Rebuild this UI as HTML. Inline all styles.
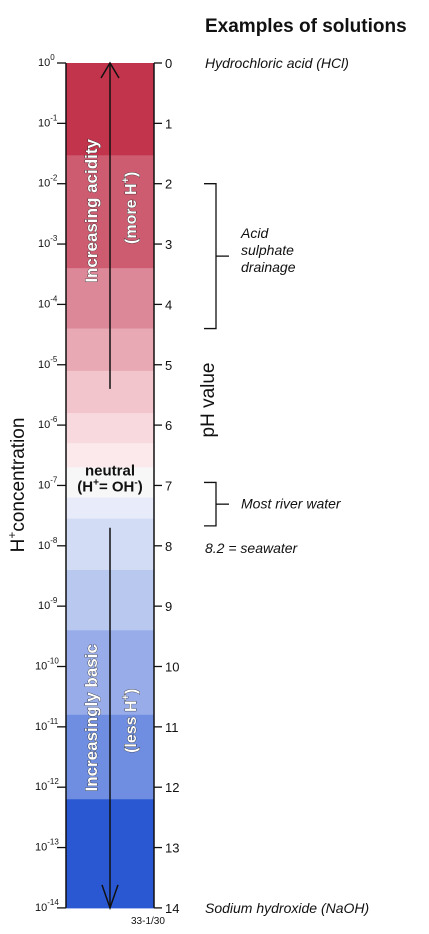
<!DOCTYPE html>
<html><head><meta charset="utf-8"><style>
html,body{margin:0;padding:0;background:#fff}
svg{display:block;font-family:"Liberation Sans",Arial,sans-serif}
</style></head><body>
<svg id="c" width="429" height="934" viewBox="0 0 429 934">
<g id="bands"></g>
<g id="axes"></g>
<text x="205" y="32" font-size="19" font-weight="bold" fill="#111">Examples of solutions</text>
<g id="ex"></g>
<text transform="translate(24,485) rotate(-90)" font-size="19" fill="#111" text-anchor="middle">H<tspan dy="-8" font-size="12">+</tspan><tspan dy="8">concentration</tspan></text>
<text transform="translate(214,400) rotate(-90)" font-size="19" fill="#111" text-anchor="middle">pH value</text>
<text x="131" y="924" font-size="10" fill="#111">33-1/30</text>
</svg>
<script>
const phTicks=[0,1,2,3,4,5,6,7,8,9,10,11,12,13,14];
const bandStops=[0,1.53,3.4,4.4,5.1,5.8,6.3,6.7,7.2,7.55,8.4,9.4,10.8,12.2,14];
const bandColors=["#c2344b","#ce5c70","#dc8898","#e8a9b4","#f2c4cc","#f8d9de","#fce9ec","#f7f7f8","#e8ecfa","#d3dcf5","#b8c8ef","#98acea","#6f8ee2","#2a58d2"];
const examples=[{ph:0,text:"Hydrochloric acid (HCl)"},{ph:14,text:"Sodium hydroxide (NaOH)"},{ph:8.2,text:"8.2 = seawater"}];
const X0=66,X1=154,Y0=63,UNIT=60.35;
const y=ph=>Y0+ph*UNIT;
const NS="http://www.w3.org/2000/svg";
function mk(tag,attrs,parent,txt){const e=document.createElementNS(NS,tag);for(const k in attrs)e.setAttribute(k,attrs[k]);if(txt!=null)e.textContent=txt;parent.appendChild(e);return e;}
const svg=document.getElementById('c'),bands=document.getElementById('bands'),axes=document.getElementById('axes'),ex=document.getElementById('ex');
for(let i=0;i<bandColors.length;i++){
 const r=mk('rect',{x:X0,y:y(bandStops[i]),width:X1-X0,height:y(bandStops[i+1])-y(bandStops[i])+0.5,fill:bandColors[i]},bands);
 
 
}
mk('line',{x1:X0,y1:y(0),x2:X0,y2:y(14),stroke:'#111','stroke-width':1.5},axes);
mk('line',{x1:X1,y1:y(0),x2:X1,y2:y(14),stroke:'#111','stroke-width':1.5},axes);
phTicks.forEach(p=>{
 const yy=y(p);
 mk('line',{x1:57,y1:yy,x2:X0,y2:yy,stroke:'#111','stroke-width':1.3},axes);
 mk('line',{x1:X1,y1:yy,x2:X1+8,y2:yy,stroke:'#111','stroke-width':1.3},axes);
 const t=mk('text',{x:165,y:yy+5,'font-size':13,fill:'#111'},axes,String(p));
 
 
 const l=mk('text',{x:p>=10?35:38,y:yy+3,'font-size':11,fill:'#111'},axes,'10');
 mk('tspan',{dy:-6,'font-size':8},l,p===0?'0':'-'+p);
 
 
});
const AX=110;
mk('line',{x1:AX,y1:y(5.4),x2:AX,y2:y(0),stroke:'#111','stroke-width':1.5},svg);
mk('polyline',{points:`${AX-9},${y(0)+15} ${AX},${y(0)} ${AX+9},${y(0)+15}`,fill:'none',stroke:'#111','stroke-width':1.5},svg);
mk('line',{x1:AX,y1:y(7.7),x2:AX,y2:y(14),stroke:'#111','stroke-width':1.5},svg);
mk('polyline',{points:`${AX-8},${y(14)-23} ${AX},${y(14)} ${AX+8},${y(14)-23}`,fill:'none',stroke:'#111','stroke-width':1.5},svg);
function vtext(cx,cy,str,name){const t=mk('text',{transform:`translate(${cx},${cy}) rotate(-90)`,'font-size':17,'font-weight':'bold',fill:'#fff',stroke:'#222','stroke-width':0.7,'paint-order':'stroke','text-anchor':'middle'},svg,str);return t;}
vtext(97,y(2.45),'Increasing acidity','increasing-acidity-label');
vtext(97,y(10.85),'Increasingly basic','increasingly-basic-label');
function paren(cy,word,name){const m=mk('text',{transform:`translate(136,${cy}) rotate(-90)`,'font-size':16,'font-weight':'bold',fill:'#fff',stroke:'#222','stroke-width':0.7,'paint-order':'stroke','text-anchor':'middle'},svg,word);
 mk('tspan',{dy:-7,'font-size':11},m,'+');mk('tspan',{dy:7},m,')');
 }
paren(y(2.4),'(more H','more-h-label');
paren(y(10.9),'(less H','less-h-label');
const n1=mk('text',{x:110,y:y(6.75)+5,'font-size':15,'font-weight':'bold',fill:'#111','text-anchor':'middle'},svg,'neutral');

const n2=mk('text',{x:110,y:y(7)+6,'font-size':15,'font-weight':'bold',fill:'#111','text-anchor':'middle'},svg,'(H');
mk('tspan',{dy:-6,'font-size':10},n2,'+');mk('tspan',{dy:6},n2,'= OH');mk('tspan',{dy:-6,'font-size':10},n2,'-');mk('tspan',{dy:6},n2,')');

examples.forEach((e,i)=>{const t=mk('text',{x:205,y:y(e.ph)+5,'font-size':14,'font-style':'italic',fill:'#111'},ex,e.text);
 if(e.ph===8.2)t.setAttribute('y',y(8)+7);
 });
function bracket(a,b,name){const g=mk('g',{},ex);
 const ya=y(a),yb=y(b),ym=(ya+yb)/2;
 mk('polyline',{points:`204,${ya} 216,${ya} 216,${yb} 204,${yb}`,fill:'none',stroke:'#111','stroke-width':1.3},g);
 mk('line',{x1:216,y1:ym,x2:229,y2:ym,stroke:'#111','stroke-width':1.3},g);}
bracket(2,4.4,'acid-sulphate-bracket');
bracket(6.95,7.67,'river-water-bracket');
[['Acid',y(3)-6],['sulphate',y(3)+11],['drainage',y(3)+28]].forEach((a,i)=>{const t=mk('text',{x:241,y:a[1],'font-size':14,'font-style':'italic',fill:'#111'},ex,a[0]);});
const rw=mk('text',{x:241,y:y(7.3)+5,'font-size':14,'font-style':'italic',fill:'#111'},ex,'Most river water');

</script>
</body></html>
